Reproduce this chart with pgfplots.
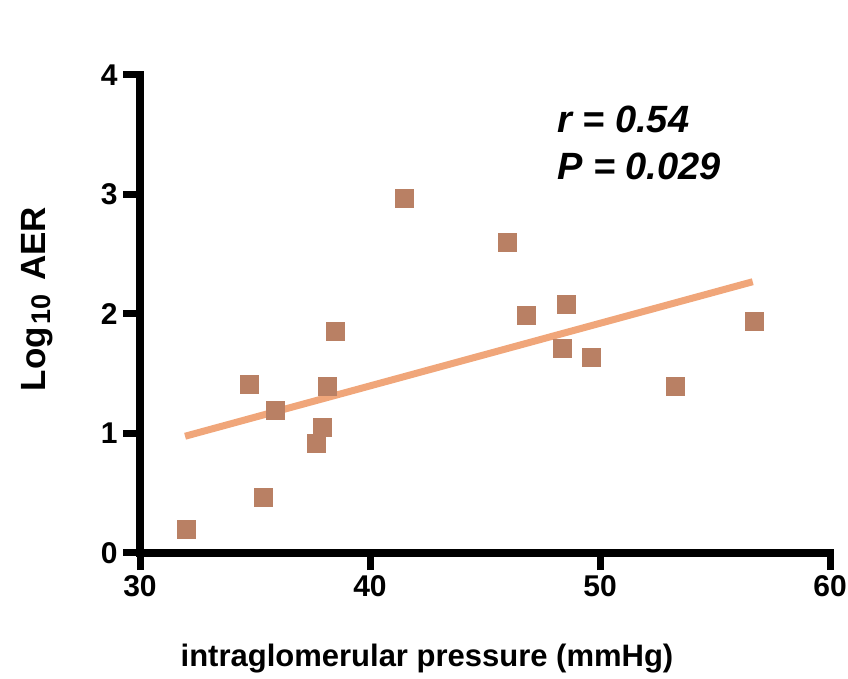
\documentclass[border=0pt]{standalone}
\usepackage{pgfplots}
\pgfplotsset{compat=1.18}
\usepackage{fontspec}
\setmainfont{Liberation Sans}
\definecolor{mk}{RGB}{185,128,100}
\definecolor{ln}{RGB}{240,166,122}
\begin{document}
\begin{tikzpicture}[x=1pt,y=1pt]
\useasboundingbox (0,0) rectangle (848,679);
\begin{axis}[
  at={(140pt,126pt)}, anchor=origin,
  scale only axis, width=690pt, height=478pt,
  xmin=30, xmax=60, ymin=0, ymax=4,
  axis lines=left,
  axis line style={-, line width=7.5pt, line cap=rect},
  xtick={30,40,50,60}, ytick={0,1,2,3,4},
  tick align=outside, major tick length=17pt,
  tick style={line width=7pt, black},
  clip=false,
  /pgf/number format/assume math mode=true,
  ticklabel style={font=\fontsize{30}{34}\selectfont\bfseries},
  xticklabel style={yshift=-2pt},
  yticklabel style={xshift=-2pt},
]
\addplot[ln, line width=7pt, no marks] coordinates {(31.96,0.977) (56.64,2.27)};
\addplot[only marks, mark=square*, mark size=9pt, mark options={fill=mk, draw=mk, line width=0pt}] coordinates {
(32.0,0.20)
(34.74,1.41)
(35.36,0.465)
(35.91,1.19)
(37.68,0.92)
(37.94,1.05)
(38.16,1.39)
(38.48,1.85)
(41.52,2.97)
(45.99,2.60)
(46.81,1.99)
(48.55,2.08)
(48.38,1.71)
(49.64,1.64)
(53.29,1.39)
(56.73,1.94)
};
\end{axis}
\node[anchor=base west, font=\fontsize{38}{42}\selectfont\bfseries\itshape, inner sep=0pt] at (557,546) {r = 0.54};
\node[anchor=base west, font=\fontsize{38}{42}\selectfont\bfseries\itshape, inner sep=0pt] at (557,499) {P = 0.029};
\node[anchor=base, font=\fontsize{31}{36}\selectfont\bfseries, inner sep=0pt] at (427,12) {intraglomerular pressure (mmHg)};
\node[anchor=base, rotate=90, font=\fontsize{35}{40}\selectfont\bfseries, inner sep=0pt] at (46,380) {Log\hspace{2pt}\raisebox{-0.25ex}{\fontsize{27}{30}\selectfont 10}\hspace{14pt}AER};
\end{tikzpicture}
\end{document}
